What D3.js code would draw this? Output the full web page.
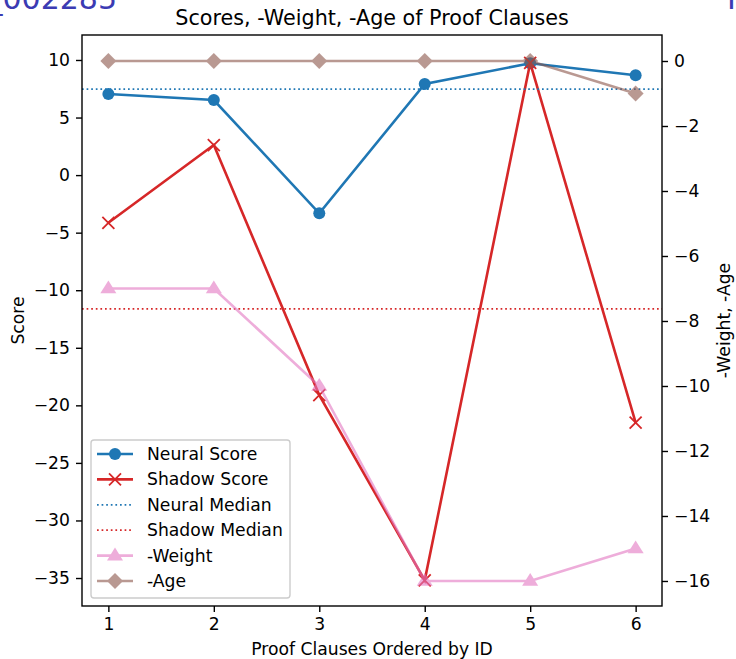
<!DOCTYPE html>
<html><head><meta charset="utf-8">
<script src="https://cdn.jsdelivr.net/npm/d3@7"></script>
<style>body{margin:0;background:#fff}svg{display:block}text{font-family:"DejaVu Sans",sans-serif}</style>
</head><body><svg id="c" width="736" height="659"></svg>
<script>
const clauseIds = [1, 2, 3, 4, 5, 6];
const neuralScore = [7.04, 6.52, -3.32, 7.91, 9.71, 8.67];
const shadowScore = [-4.14, 2.61, -19.11, -35.2, 9.74, -21.5];
const negWeight = [-7, -7, -10, -16, -16, -15];
const negAge = [0, 0, 0, 0, 0, -1];
const leftTicks = [10, 5, 0, -5, -10, -15, -20, -25, -30, -35];
const rightTicks = [0, -2, -4, -6, -8, -10, -12, -14, -16];
const median = a => d3.median(a);

const svg = d3.select("#c");
const L = 82, R = 662, T = 35, B = 606;
const x = d3.scaleLinear().domain([0.75, 6.25]).range([L, R]);
const yL = d3.scaleLinear().domain([-37.43, 12.17]).range([B, T]);
const yR = d3.scaleLinear().domain([-16.77, 0.8]).range([B, T]);
const fmt = d => (d < 0 ? "\u2212" + Math.abs(d) : "" + d);

// clipped header texts
svg.append("text").attr("x", 117).attr("y", 9).attr("text-anchor", "end")
  .attr("font-size", 30).attr("fill", "#3b3bb3").text("_002285");
svg.append("text").attr("x", 727).attr("y", 9).attr("font-size", 30).attr("fill", "#3b3bb3").text("I");

const cNeural = "#1f77b4", cShadow = "#d62728", cWeight = "#e377c2", cAge = "#8c564b";
const LW = 2.6;

const plot = svg.append("g");
const line = (ys, yscale) => d3.line().x((d, i) => x(clauseIds[i])).y(d => yscale(d))(ys);

// Neural
plot.append("path").attr("d", line(neuralScore, yL)).attr("fill", "none").attr("stroke", cNeural).attr("stroke-width", LW);
plot.selectAll(".nc").data(neuralScore).enter().append("circle")
  .attr("cx", (d, i) => x(clauseIds[i])).attr("cy", d => yL(d)).attr("r", 6).attr("fill", cNeural);
// Shadow
plot.append("path").attr("d", line(shadowScore, yL)).attr("fill", "none").attr("stroke", cShadow).attr("stroke-width", LW);
const xMark = (g, cx, cy, s, col) => g.append("path")
  .attr("d", `M${cx - s},${cy - s}L${cx + s},${cy + s}M${cx - s},${cy + s}L${cx + s},${cy - s}`)
  .attr("stroke", col).attr("stroke-width", 1.8).attr("fill", "none");
shadowScore.forEach((d, i) => xMark(plot, x(clauseIds[i]), yL(d), 6, cShadow));
// Medians
const dash = "1.7,2.9";
plot.append("line").attr("x1", L).attr("x2", R).attr("y1", yL(median(neuralScore))).attr("y2", yL(median(neuralScore)))
  .attr("stroke", cNeural).attr("stroke-width", 1.7).attr("stroke-dasharray", dash);
plot.append("line").attr("x1", L).attr("x2", R).attr("y1", yL(median(shadowScore))).attr("y2", yL(median(shadowScore)))
  .attr("stroke", cShadow).attr("stroke-width", 1.7).attr("stroke-dasharray", dash);

// Twin axis series
const tri = (cx, cy, s) => `M${cx},${cy - s}L${cx + s},${cy + s * 0.6}L${cx - s},${cy + s * 0.6}Z`;
const dia = (cx, cy, s) => `M${cx},${cy - s}L${cx + s},${cy}L${cx},${cy + s}L${cx - s},${cy}Z`;
const gW = plot.append("g").attr("opacity", 0.6);
gW.append("path").attr("d", line(negWeight, yR)).attr("fill", "none").attr("stroke", cWeight).attr("stroke-width", LW);
negWeight.forEach((d, i) => gW.append("path").attr("d", tri(x(clauseIds[i]), yR(d), 8)).attr("fill", cWeight));
const gA = plot.append("g").attr("opacity", 0.6);
gA.append("path").attr("d", line(negAge, yR)).attr("fill", "none").attr("stroke", cAge).attr("stroke-width", LW);
negAge.forEach((d, i) => gA.append("path").attr("d", dia(x(clauseIds[i]), yR(d), 8)).attr("fill", cAge));

// Axes
const fs = 17.2;
const gx = svg.append("g").attr("transform", `translate(0,${B})`)
  .call(d3.axisBottom(x).tickValues(clauseIds).tickSize(6).tickPadding(6).tickFormat(d3.format("d")));
const gl = svg.append("g").attr("transform", `translate(${L},0)`)
  .call(d3.axisLeft(yL).tickValues(leftTicks).tickSize(6).tickPadding(6).tickFormat(fmt));
const gr = svg.append("g").attr("transform", `translate(${R},0)`)
  .call(d3.axisRight(yR).tickValues(rightTicks).tickSize(6).tickPadding(6).tickFormat(fmt));
[gx, gl, gr].forEach(g => {
  g.attr("font-size", fs).attr("font-family", "DejaVu Sans");
  g.select(".domain").remove();
  g.selectAll("line").attr("stroke", "#000").attr("stroke-width", 1.4);
  g.selectAll("text").attr("font-size", fs).attr("fill", "#000");
});
svg.append("rect").attr("x", L).attr("y", T).attr("width", R - L).attr("height", B - T)
  .attr("fill", "none").attr("stroke", "#000").attr("stroke-width", 1.4);

// Labels
svg.append("text").attr("x", (L + R) / 2).attr("y", 25).attr("text-anchor", "middle").attr("font-size", 20.7).text("Scores, -Weight, -Age of Proof Clauses");
svg.append("text").attr("x", (L + R) / 2).attr("y", 655).attr("text-anchor", "middle").attr("font-size", fs).text("Proof Clauses Ordered by ID");
svg.append("text").attr("transform", `translate(24,${(T + B) / 2}) rotate(-90)`).attr("text-anchor", "middle").attr("font-size", fs).text("Score");
svg.append("text").attr("transform", `translate(730,${(T + B) / 2}) rotate(-90)`).attr("text-anchor", "middle").attr("font-size", fs).text("-Weight, -Age");

// Legend
const lg = svg.append("g");
lg.append("rect").attr("x", 91).attr("y", 440).attr("width", 199).attr("height", 158).attr("rx", 3)
  .attr("fill", "#fff").attr("fill-opacity", 0.8).attr("stroke", "#ccc").attr("stroke-width", 1.4);
const items = [
  {label: "Neural Score", col: cNeural, mk: "circle"},
  {label: "Shadow Score", col: cShadow, mk: "x"},
  {label: "Neural Median", col: cNeural, mk: "dot"},
  {label: "Shadow Median", col: cShadow, mk: "dot"},
  {label: "-Weight", col: cWeight, mk: "tri", op: 0.6},
  {label: "-Age", col: cAge, mk: "dia", op: 0.6}
];
items.forEach((it, i) => {
  const cy = 454 + i * 25.4;
  const g = lg.append("g").attr("opacity", it.op || 1);
  if (it.mk === "dot") {
    g.append("line").attr("x1", 97).attr("x2", 133).attr("y1", cy).attr("y2", cy).attr("stroke", it.col)
      .attr("stroke-width", 1.7).attr("stroke-dasharray", dash);
  } else {
    g.append("line").attr("x1", 97).attr("x2", 133).attr("y1", cy).attr("y2", cy).attr("stroke", it.col).attr("stroke-width", LW);
    if (it.mk === "circle") g.append("circle").attr("cx", 115).attr("cy", cy).attr("r", 6).attr("fill", it.col);
    if (it.mk === "x") xMark(g, 115, cy, 6, it.col);
    if (it.mk === "tri") g.append("path").attr("d", tri(115, cy, 8)).attr("fill", it.col);
    if (it.mk === "dia") g.append("path").attr("d", dia(115, cy, 8)).attr("fill", it.col);
  }
  lg.append("text").attr("x", 147).attr("y", cy + 6).attr("font-size", fs).text(it.label);
});
</script></body></html>
